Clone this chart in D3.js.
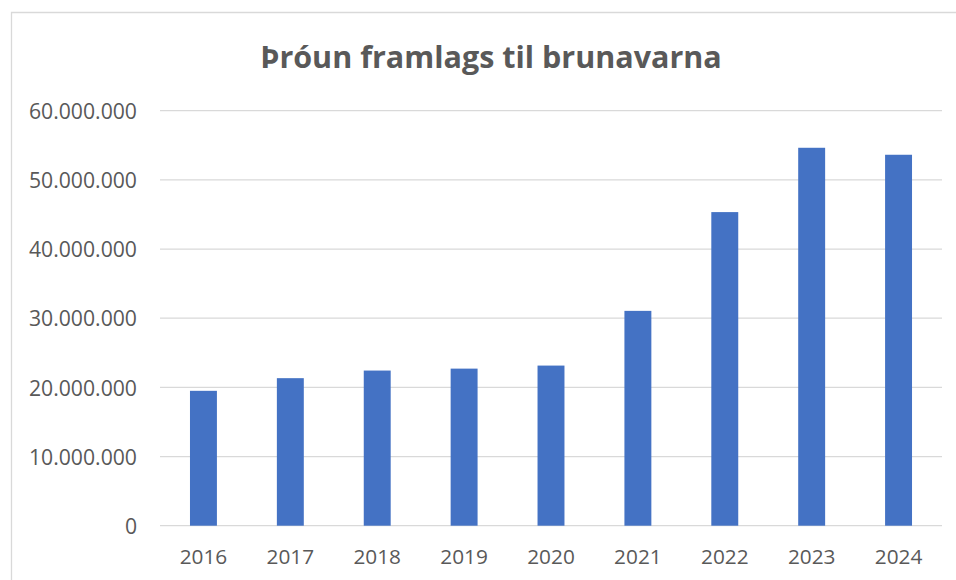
<!DOCTYPE html>
<html>
<head>
<meta charset="utf-8">
<script src="https://cdn.jsdelivr.net/npm/d3@7"></script>
<style>
html, body { margin: 0; padding: 0; background: #fff; }
svg { display: block; }
</style>
</head>
<body>
<svg id="chart" width="956" height="580"></svg>
<script>
const title = "Þróun framlags til brunavarna";
const years = ["2016", "2017", "2018", "2019", "2020", "2021", "2022", "2023", "2024"];
const amounts = [19500000, 21330000, 22430000, 22710000, 23150000, 31060000, 45340000, 54640000, 53630000];
const yTicks = [0, 10000000, 20000000, 30000000, 40000000, 50000000, 60000000];

const svg = d3.select("#chart");
const W = 956, H = 580;
const plot = { left: 160, right: 942, top: 110.7, bottom: 525.7 };

// frame
svg.append("path")
  .attr("d", `M11.5,${H} L11.5,12.5 L${W},12.5`)
  .attr("fill", "none").attr("stroke", "#d9d9d9").attr("stroke-width", 1.3);

const x = d3.scaleBand().domain(years).range([plot.left, plot.right]).paddingInner(0.69).paddingOuter(0.345);
const y = d3.scaleLinear().domain([0, 60000000]).range([plot.bottom, plot.top]);

const fmt = v => d3.format(",")(v).replace(/,/g, ".");

// gridlines
svg.append("g").selectAll("line").data(yTicks).join("line")
  .attr("x1", plot.left).attr("x2", plot.right)
  .attr("y1", d => y(d)).attr("y2", d => y(d))
  .attr("stroke", "#d9d9d9").attr("stroke-width", 1.3);

// y axis labels
const yAxis = d3.axisLeft(y).tickValues(yTicks).tickFormat(fmt).tickSize(0).tickPadding(0);
const ya = svg.append("g").attr("transform", `translate(137,0)`).call(yAxis);
ya.select(".domain").remove();
ya.selectAll("text")
  .attr("font-family", "'Open Sans', sans-serif")
  .attr("font-size", 21.2)
  .attr("fill", "#595959")
  .attr("dy", "0.36em");

// bars
svg.append("g").selectAll("rect").data(years).join("rect")
  .attr("x", d => x(d))
  .attr("width", x.bandwidth())
  .attr("y", (d, i) => y(amounts[i]))
  .attr("height", (d, i) => y(0) - y(amounts[i]))
  .attr("fill", "#4472c4");

// x axis labels
const xAxis = d3.axisBottom(x).tickSize(0).tickPadding(0);
const xa = svg.append("g").attr("transform", `translate(0,564)`).call(xAxis);
xa.select(".domain").remove();
xa.selectAll("text")
  .attr("font-family", "'Open Sans', sans-serif")
  .attr("font-size", 20.8)
  .attr("fill", "#595959")
  .attr("dy", 0)
  .attr("y", 0);

// title
svg.append("text")
  .attr("x", 491).attr("y", 67.5)
  .attr("text-anchor", "middle")
  .attr("font-family", "'Open Sans', sans-serif")
  .attr("font-weight", "bold")
  .attr("font-size", 30.5)
  .attr("fill", "#595959")
  .text(title);
</script>
</body>
</html>
